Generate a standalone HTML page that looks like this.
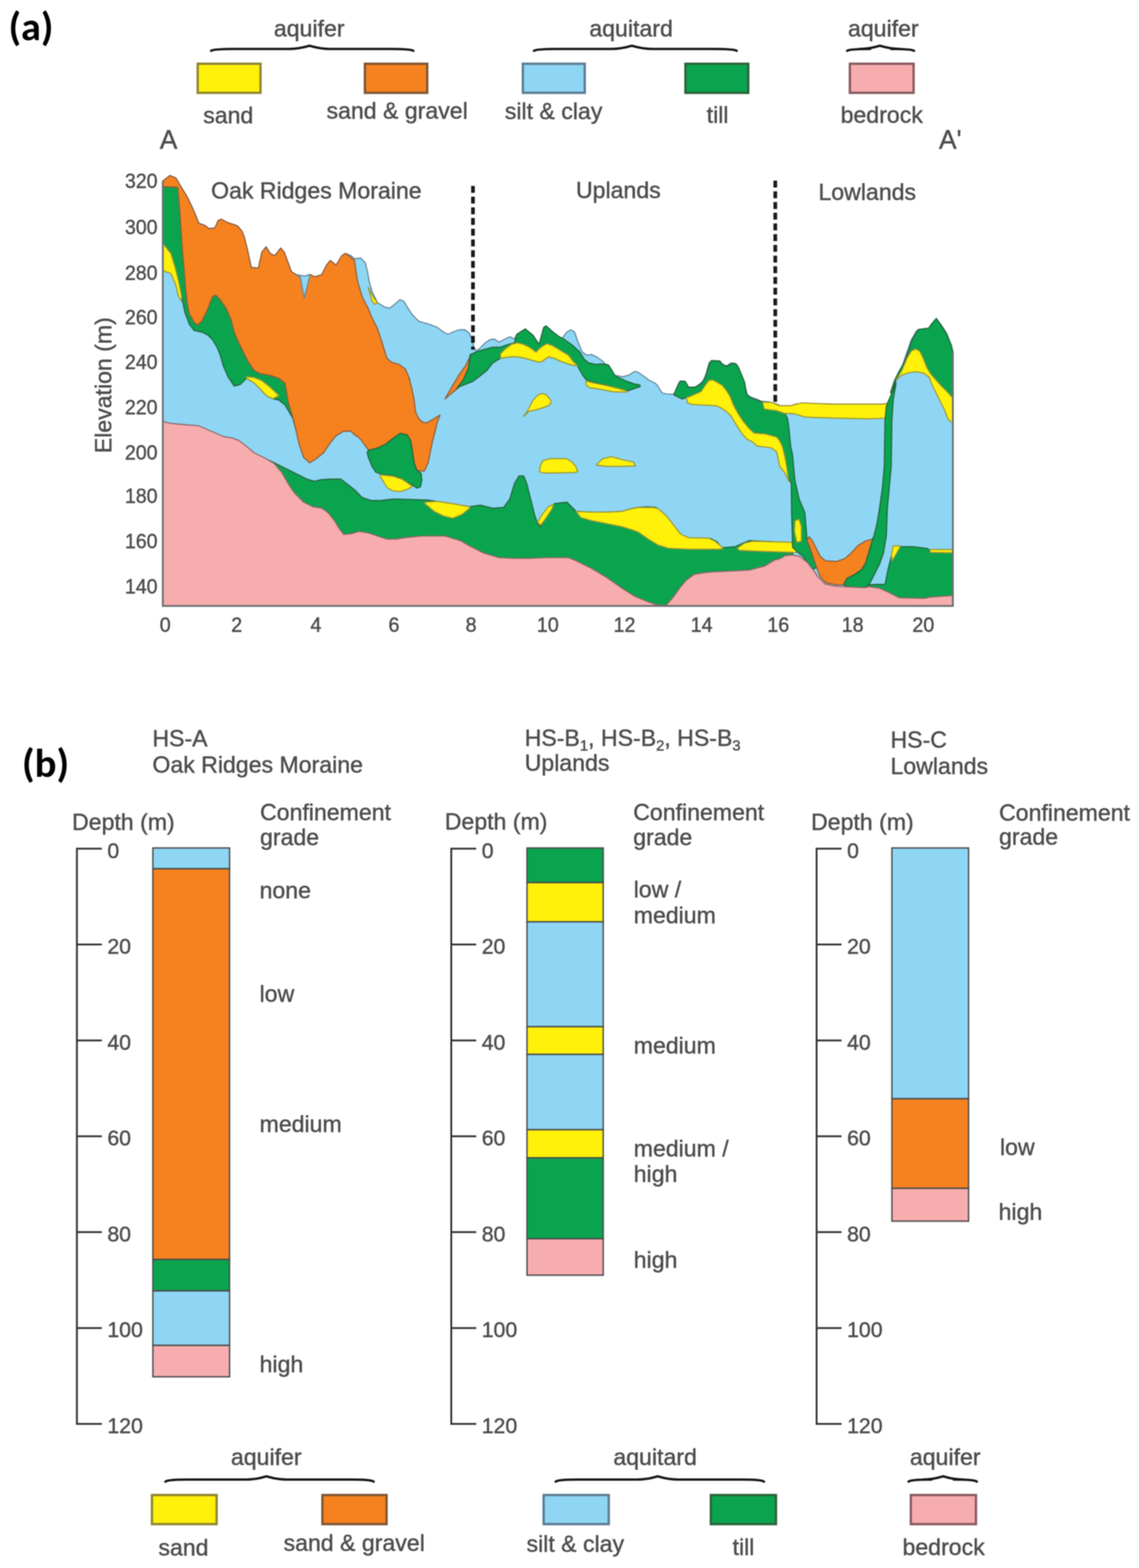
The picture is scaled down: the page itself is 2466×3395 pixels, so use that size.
<!DOCTYPE html><html><head><meta charset="utf-8"><title>Hydrostratigraphic cross-section</title><style>html,body{margin:0;padding:0;background:#fff;}svg{display:block;filter:blur(1px);}</style></head><body><svg width="2466" height="3395" viewBox="0 0 2466 3395" style="font-family:'Liberation Sans',Arial,sans-serif"><style>text{stroke:#505050;stroke-width:0.9px;}</style><rect width="2466" height="3395" fill="#fff"/><path d="M352.5,392.0 L368.0,380.0 L380.8,385.3 L391.0,403.0 L403.8,423.6 L414.0,444.0 L424.0,467.0 L430.5,483.5 L444.6,488.6 L452.0,495.0 L465.0,493.7 L472.6,477.0 L479.0,474.6 L493.0,482.0 L513.4,488.6 L523.6,500.0 L528.7,512.8 L536.4,543.4 L544.0,579.0 L559.3,580.4 L567.0,546.0 L576.0,534.5 L584.8,548.5 L595.0,553.6 L607.8,537.0 L615.4,546.0 L623.0,566.4 L630.7,588.0 L641.0,594.4 L650.0,600.0 L660.0,598.0 L671.5,594.4 L681.8,599.5 L697.0,594.4 L707.0,574.0 L715.0,564.0 L727.6,574.0 L740.0,553.6 L748.0,548.5 L760.0,553.6 L767.4,560.3 L780.8,558.7 L790.8,568.7 L795.8,588.7 L799.2,608.8 L805.8,632.1 L817.5,655.5 L834.2,665.5 L844.2,667.2 L854.3,658.9 L865.9,648.8 L874.3,652.2 L884.3,668.9 L893.4,682.2 L906.7,695.6 L930.1,702.3 L946.8,708.9 L960.1,719.0 L970.2,724.0 L980.2,719.0 L993.5,714.0 L1006.9,714.0 L1016.9,722.3 L1021.9,735.7 L1026.9,755.7 L1033.6,759.0 L1043.6,749.0 L1050.3,742.3 L1060.3,735.7 L1070.3,734.0 L1080.4,740.7 L1093.7,734.0 L1103.7,729.0 L1113.8,734.0 L1118.8,724.0 L1137.1,712.3 L1153.8,725.6 L1167.2,745.7 L1177.2,708.9 L1182.2,705.6 L1197.2,719.0 L1210.6,729.0 L1217.3,732.3 L1227.3,719.0 L1235.7,714.0 L1244.0,719.0 L1250.7,739.0 L1260.7,762.4 L1270.7,769.1 L1280.7,767.4 L1294.1,774.1 L1307.5,784.1 L1317.5,799.1 L1330.8,812.5 L1347.5,815.8 L1360.9,812.5 L1374.2,804.1 L1380.9,805.8 L1390.9,812.5 L1404.3,822.5 L1417.7,829.2 L1422.7,833.7 L1433.4,850.7 L1441.9,852.9 L1458.9,853.9 L1465.2,842.2 L1471.6,825.2 L1482.2,825.2 L1488.6,838.0 L1499.2,841.2 L1512.0,833.7 L1522.6,825.2 L1529.0,808.2 L1535.4,784.9 L1541.7,780.6 L1558.7,781.7 L1565.1,789.1 L1573.6,792.3 L1582.1,785.9 L1592.7,787.0 L1599.1,795.5 L1605.5,812.5 L1611.9,831.6 L1618.2,855.0 L1626.7,860.3 L1639.5,864.6 L1648.0,868.8 L1665.0,869.9 L1678.3,873.6 L1694.6,880.4 L1711.0,879.1 L1722.0,875.0 L1749.3,873.6 L1803.9,875.0 L1858.6,875.0 L1913.2,875.0 L1924.2,873.6 L1929.6,858.6 L1935.1,836.7 L1943.3,814.9 L1951.5,798.5 L1962.4,765.7 L1973.3,735.6 L1984.3,716.5 L1995.2,713.8 L2011.6,711.0 L2028.0,690.5 L2038.9,705.6 L2049.8,722.0 L2058.0,743.8 L2062.1,760.2 L2063.0,762.0 L2063.0,1312.0 L352.5,1312.0 Z" fill="#8ed6f4" stroke="#62849a" stroke-width="2.4" stroke-linejoin="round"/>
<path d="M352.5,405.0 L386.0,402.0 L420.0,460.0 L440.0,560.0 L470.0,640.0 L520.0,700.0 L560.0,760.0 L600.0,800.0 L625.0,830.0 L623.8,870.1 L633.9,903.5 L640.5,930.2 L634.0,906.0 L627.0,893.5 L617.0,876.8 L603.8,866.0 L590.4,863.4 L577.0,856.7 L563.7,842.5 L550.4,829.0 L533.7,819.0 L520.3,832.5 L507.0,835.8 L493.6,815.8 L483.6,792.4 L476.9,769.1 L470.2,752.4 L460.2,735.7 L450.2,725.6 L436.8,719.0 L420.1,715.6 L410.1,702.3 L400.1,675.6 L393.4,642.2 L386.7,608.8 L380.1,582.0 L370.0,548.7 L352.5,527.0 Z" fill="#0aa44e" stroke="#25633b" stroke-width="2.4" stroke-linejoin="round"/>
<path d="M352.5,527.0 L370.0,548.7 L380.1,582.0 L386.7,608.8 L393.4,642.2 L392.7,652.2 L386.7,642.2 L380.1,615.4 L370.0,592.1 L352.5,586.0 Z" fill="#fff10a" stroke="#9c9438" stroke-width="2.4" stroke-linejoin="round"/>
<path d="M533.7,815.8 L550.4,817.5 L567.0,824.2 L583.8,837.5 L597.0,849.9 L603.8,856.7 L590.4,863.4 L577.0,856.7 L563.7,842.5 L550.4,829.0 L533.7,819.0 Z" fill="#fff10a" stroke="#9c9438" stroke-width="2.4" stroke-linejoin="round"/>
<path d="M583.8,997.0 L593.8,1002.0 L617.2,1013.7 L643.9,1027.0 L663.9,1037.1 L680.6,1042.1 L694.0,1038.7 L717.3,1037.1 L737.4,1037.1 L750.7,1047.1 L767.4,1060.4 L784.1,1077.1 L804.2,1083.8 L824.2,1083.8 L850.9,1080.5 L881.4,1081.1 L927.0,1082.6 L1016.9,1097.2 L1040.3,1093.8 L1067.0,1100.5 L1090.4,1098.8 L1103.7,1080.5 L1113.8,1047.1 L1123.8,1030.4 L1133.8,1030.4 L1140.5,1047.1 L1147.2,1073.8 L1157.2,1113.9 L1163.9,1133.9 L1170.5,1140.6 L1180.6,1120.6 L1193.9,1097.2 L1200.6,1090.5 L1227.3,1087.2 L1234.0,1093.8 L1247.3,1107.2 L1280.7,1108.9 L1314.1,1108.9 L1347.5,1107.2 L1364.2,1102.2 L1380.9,1098.8 L1401.0,1097.2 L1421.0,1098.8 L1413.1,1097.7 L1428.5,1104.3 L1446.1,1124.2 L1463.8,1146.2 L1479.2,1163.8 L1501.2,1166.0 L1538.7,1166.0 L1551.9,1172.7 L1562.9,1185.9 L1591.6,1183.7 L1611.4,1174.9 L1622.5,1170.5 L1666.5,1172.7 L1710.6,1174.9 L1716.0,1180.0 L1716.0,1312.0 L560.0,1312.0 Z" fill="#0aa44e" stroke="#25633b" stroke-width="2.4" stroke-linejoin="round"/>
<path d="M352.5,392.0 L368.0,380.0 L380.8,385.3 L391.0,403.0 L403.8,423.6 L414.0,444.0 L424.0,467.0 L430.5,483.5 L444.6,488.6 L452.0,495.0 L465.0,493.7 L472.6,477.0 L479.0,474.6 L493.0,482.0 L513.4,488.6 L523.6,500.0 L528.7,512.8 L536.4,543.4 L544.0,579.0 L559.3,580.4 L567.0,546.0 L576.0,534.5 L584.8,548.5 L595.0,553.6 L607.8,537.0 L615.4,546.0 L623.0,566.4 L630.7,588.0 L641.0,594.4 L650.0,600.0 L660.0,598.0 L671.5,594.4 L681.8,599.5 L697.0,594.4 L707.0,574.0 L715.0,564.0 L727.6,574.0 L740.0,553.6 L748.0,548.5 L767.4,563.7 L774.1,608.8 L784.1,642.2 L797.5,668.9 L804.2,685.6 L817.5,712.3 L827.5,742.3 L837.6,775.7 L847.6,784.1 L864.3,789.1 L877.6,799.1 L887.7,822.5 L886.0,820.0 L892.1,842.8 L896.6,865.5 L899.6,891.3 L905.7,905.0 L914.8,914.1 L923.9,915.6 L934.6,909.6 L952.8,898.9 L946.7,914.1 L942.1,933.8 L936.1,956.6 L931.5,979.4 L927.0,1002.1 L920.9,1015.8 L917.9,1020.4 L902.7,1018.8 L896.6,1002.1 L892.1,971.8 L889.0,953.6 L881.4,941.4 L866.3,938.4 L851.1,949.0 L835.9,961.2 L820.7,968.8 L805.5,973.3 L797.9,974.8 L790.4,964.2 L782.8,953.6 L775.2,946.0 L767.6,941.4 L760.0,933.8 L744.1,933.5 L727.4,943.6 L714.0,960.3 L700.6,980.3 L683.9,993.7 L670.6,1002.0 L657.2,990.3 L647.2,960.3 L640.5,930.2 L633.9,903.5 L623.8,870.1 L617.2,830.0 L603.8,819.1 L583.8,812.5 L563.7,809.1 L550.4,802.5 L537.0,782.4 L527.0,762.4 L517.0,742.3 L507.0,719.0 L500.3,692.2 L490.3,668.9 L476.9,648.8 L466.9,638.8 L460.2,642.2 L453.5,658.9 L446.8,675.6 L436.8,695.6 L426.8,703.9 L420.1,697.3 L409.8,678.6 L405.2,655.5 L402.0,624.6 L399.0,586.0 L396.0,555.2 L392.8,508.9 L389.8,462.6 L385.0,405.5 L352.5,404.0 Z" fill="#f6821f" stroke="#8c5c3c" stroke-width="2.4" stroke-linejoin="round"/>
<path d="M797.9,974.8 L805.5,973.3 L820.7,968.8 L835.9,961.2 L851.1,949.0 L866.3,938.4 L881.4,941.4 L889.0,953.6 L892.1,971.8 L896.6,1002.1 L902.7,1018.8 L911.8,1024.9 L913.3,1040.1 L910.3,1053.8 L902.7,1056.8 L893.6,1050.7 L881.4,1044.7 L866.3,1035.5 L851.1,1029.5 L828.3,1028.0 L813.1,1021.9 L805.5,1009.7 L797.9,991.5 L794.9,979.4 Z" fill="#0aa44e" stroke="#25633b" stroke-width="2.4" stroke-linejoin="round"/>
<path d="M823.8,1028.0 L851.1,1031.0 L869.3,1037.1 L881.4,1044.7 L892.1,1052.2 L892.1,1053.8 L881.4,1059.8 L866.3,1064.4 L851.1,1062.9 L838.9,1056.8 L831.3,1044.7 L823.8,1032.5 Z" fill="#fff10a" stroke="#9c9438" stroke-width="2.4" stroke-linejoin="round"/>
<path d="M641.0,594.4 L650.0,600.0 L658.8,645.4 L671.5,594.4 L660.0,598.0 Z" fill="#8ed6f4" stroke="#62849a" stroke-width="2.4" stroke-linejoin="round"/>
<path d="M797.5,622.1 L807.5,642.2 L817.5,655.5 L810.8,658.9 L804.2,648.8 Z" fill="#fff10a" stroke="#9c9438" stroke-width="2.4" stroke-linejoin="round"/>
<path d="M963.3,863.8 L978.9,836.6 L993.4,812.3 L1008.0,791.9 L1016.8,773.4 L1018.5,767.0 L1019.0,774.4 L1015.0,797.7 L1004.0,822.0 L990.0,841.5 L970.0,858.0 Z" fill="#f6821f" stroke="#8c5c3c" stroke-width="2.4" stroke-linejoin="round"/>
<path d="M1017.7,768.6 L1030.4,761.8 L1046.9,757.0 L1067.0,751.7 L1067.0,751.7 L1083.7,751.7 L1100.4,745.7 L1113.8,742.3 L1118.8,724.0 L1137.1,712.3 L1153.8,725.6 L1167.2,745.7 L1177.2,708.9 L1182.2,705.6 L1197.2,719.0 L1210.6,729.0 L1210.6,729.0 L1222.0,735.0 L1240.0,748.0 L1255.0,762.0 L1265.0,778.0 L1275.0,786.0 L1290.0,789.0 L1305.0,788.0 L1317.0,790.0 L1325.0,802.0 L1332.0,814.0 L1345.0,820.0 L1358.0,826.0 L1372.0,831.0 L1386.0,834.0 L1385.7,837.0 L1371.0,842.0 L1356.6,847.0 L1342.0,842.0 L1312.9,834.0 L1283.7,828.0 L1269.0,822.0 L1262.0,813.0 L1255.0,801.0 L1250.7,792.4 L1250.7,792.4 L1234.0,789.1 L1213.9,782.4 L1200.6,775.7 L1187.2,772.4 L1173.9,782.4 L1167.2,784.1 L1153.8,780.7 L1137.1,775.7 L1120.4,772.4 L1107.1,772.4 L1093.7,774.1 L1083.7,775.7 L1067.0,785.8 L1053.7,802.5 L1037.0,815.8 L1023.6,825.8 L1006.9,832.5 L996.4,836.6 L988.6,841.5 L1003.2,822.0 L1013.9,797.7 L1017.7,772.0 Z" fill="#0aa44e" stroke="#25633b" stroke-width="2.4" stroke-linejoin="round"/>
<path d="M1083.7,765.7 L1093.7,755.7 L1107.1,745.7 L1120.4,742.3 L1133.8,745.7 L1147.2,752.4 L1160.5,762.4 L1170.5,752.4 L1183.9,744.0 L1197.2,749.0 L1213.9,759.0 L1230.6,769.1 L1240.7,782.4 L1250.7,792.4 L1234.0,789.1 L1213.9,782.4 L1200.6,775.7 L1187.2,772.4 L1173.9,782.4 L1167.2,784.1 L1153.8,780.7 L1137.1,775.7 L1120.4,772.4 L1107.1,772.4 L1093.7,774.1 L1083.7,775.7 Z" fill="#fff10a" stroke="#9c9438" stroke-width="2.4" stroke-linejoin="round"/>
<path d="M1269.0,824.5 L1283.7,828.9 L1312.9,834.7 L1342.0,842.0 L1356.6,846.4 L1356.6,849.0 L1327.4,848.3 L1298.3,842.5 L1276.4,839.5 L1269.0,833.3 Z" fill="#fff10a" stroke="#9c9438" stroke-width="2.4" stroke-linejoin="round"/>
<path d="M1133.0,902.0 L1140.0,893.0 L1146.0,882.0 L1153.0,868.0 L1163.0,857.0 L1172.0,852.0 L1182.0,854.0 L1192.0,866.0 L1193.0,873.0 L1186.0,879.0 L1172.0,884.0 L1158.0,888.0 L1146.0,890.0 Z" fill="#fff10a" stroke="#9c9438" stroke-width="2.4" stroke-linejoin="round"/>
<path d="M1168.0,1021.0 L1170.0,1008.0 L1176.0,997.0 L1191.0,993.0 L1227.0,993.0 L1238.0,1000.0 L1246.0,1009.0 L1251.0,1021.0 L1245.0,1023.0 L1209.0,1024.0 L1176.0,1024.0 Z" fill="#fff10a" stroke="#9c9438" stroke-width="2.4" stroke-linejoin="round"/>
<path d="M1290.8,1007.0 L1304.1,993.7 L1324.1,988.6 L1347.5,995.3 L1370.9,1000.3 L1375.9,1008.7 L1347.5,1009.7 L1314.1,1009.7 Z" fill="#fff10a" stroke="#9c9438" stroke-width="2.4" stroke-linejoin="round"/>
<path d="M920.1,1087.2 L946.8,1085.5 L980.2,1090.5 L1016.9,1097.2 L1016.9,1100.5 L1000.2,1113.9 L980.2,1122.2 L960.1,1117.2 L940.1,1107.2 L920.1,1090.5 Z" fill="#fff10a" stroke="#9c9438" stroke-width="2.4" stroke-linejoin="round"/>
<path d="M1163.9,1130.6 L1173.9,1113.9 L1187.2,1097.2 L1198.9,1092.2 L1193.9,1103.9 L1180.6,1123.9 L1170.5,1137.2 Z" fill="#fff10a" stroke="#9c9438" stroke-width="2.4" stroke-linejoin="round"/>
<path d="M1247.3,1107.2 L1280.7,1108.9 L1314.1,1108.9 L1347.5,1107.2 L1364.2,1102.2 L1380.9,1098.8 L1414.6,1098.6 L1425.6,1101.9 L1443.0,1117.2 L1458.4,1136.8 L1473.7,1156.5 L1491.1,1164.2 L1534.9,1165.2 L1548.0,1171.8 L1561.1,1182.7 L1565.5,1188.2 L1556.7,1189.3 L1491.1,1189.3 L1447.4,1187.1 L1425.6,1180.5 L1403.7,1167.4 L1381.9,1152.1 L1367.6,1147.0 L1347.5,1140.6 L1314.1,1133.9 L1280.7,1127.2 L1257.4,1120.6 Z" fill="#fff10a" stroke="#9c9438" stroke-width="2.4" stroke-linejoin="round"/>
<path d="M1596.0,1187.1 L1611.4,1176.2 L1628.8,1171.8 L1709.7,1174.0 L1740.0,1178.0 L1740.0,1196.0 L1709.7,1195.8 L1644.2,1193.7 L1600.4,1191.5 Z" fill="#fff10a" stroke="#9c9438" stroke-width="2.4" stroke-linejoin="round"/>
<path d="M1459.4,852.9 L1469.0,831.0 L1474.0,825.0 L1483.7,826.0 L1491.0,838.3 L1505.6,838.3 L1517.7,831.0 L1527.4,816.4 L1534.7,792.0 L1539.6,781.2 L1541.7,780.6 L1558.7,781.7 L1561.4,787.3 L1573.6,793.4 L1585.7,786.0 L1595.4,789.7 L1601.5,801.9 L1607.6,816.4 L1612.4,828.6 L1616.0,852.9 L1622.1,859.0 L1635.3,865.0 L1651.0,871.0 L1654.7,885.6 L1681.4,889.2 L1699.6,895.3 L1704.5,905.0 L1707.0,917.0 L1709.4,941.4 L1711.8,965.7 L1716.0,985.0 L1720.7,1038.0 L1730.0,1080.0 L1737.0,1097.0 L1742.6,1110.0 L1747.4,1170.0 L1752.0,1181.0 L1760.0,1204.7 L1767.9,1228.4 L1760.0,1233.0 L1747.4,1217.3 L1738.0,1204.0 L1730.0,1198.0 L1716.0,1185.0 L1714.0,1110.0 L1713.0,1045.0 L1708.0,1040.0 L1706.0,1030.0 L1703.0,1009.0 L1699.6,990.0 L1693.6,965.7 L1687.5,953.6 L1681.4,946.3 L1657.1,939.6 L1632.9,937.8 L1622.1,928.1 L1610.0,913.6 L1597.9,895.4 L1588.1,877.1 L1580.9,858.9 L1573.6,846.8 L1563.9,834.6 L1554.1,828.6 L1543.2,822.5 L1534.7,823.7 L1527.4,833.4 L1517.7,848.0 L1500.7,855.3 L1486.0,861.4 L1476.4,863.8 L1459.4,855.3 Z" fill="#0aa44e" stroke="#25633b" stroke-width="2.4" stroke-linejoin="round"/>
<path d="M1486.0,861.4 L1500.7,855.3 L1517.7,848.0 L1527.4,833.4 L1534.7,823.7 L1543.2,822.5 L1554.1,828.6 L1563.9,834.6 L1573.6,846.8 L1580.9,858.9 L1588.1,877.1 L1597.9,895.4 L1610.0,913.6 L1622.1,928.1 L1632.9,937.8 L1657.1,939.6 L1681.4,946.3 L1687.5,953.6 L1693.6,965.7 L1699.6,990.0 L1703.0,1009.0 L1706.0,1030.0 L1708.0,1042.0 L1700.0,1025.0 L1688.0,1009.0 L1684.0,990.0 L1681.4,977.9 L1669.3,969.4 L1639.0,965.7 L1628.2,956.1 L1616.0,950.0 L1604.0,935.4 L1591.8,916.0 L1583.3,901.4 L1573.6,891.7 L1561.4,883.2 L1549.3,878.4 L1500.7,876.0 L1488.6,872.3 Z" fill="#fff10a" stroke="#9c9438" stroke-width="2.4" stroke-linejoin="round"/>
<path d="M1721.0,1128.0 L1730.0,1124.0 L1735.0,1140.0 L1735.0,1172.0 L1725.0,1174.0 L1720.0,1150.0 Z" fill="#fff10a" stroke="#9c9438" stroke-width="2.4" stroke-linejoin="round"/>
<path d="M1651.0,871.0 L1669.3,871.0 L1687.5,878.3 L1711.8,878.3 L1736.0,872.2 L1760.0,873.4 L1804.0,875.0 L1858.6,875.0 L1913.0,875.0 L1922.0,872.4 L1924.0,890.0 L1917.5,905.4 L1880.0,907.0 L1800.0,905.0 L1760.0,903.8 L1742.0,902.6 L1717.9,895.3 L1699.6,895.3 L1681.4,889.2 L1654.7,885.6 Z" fill="#fff10a" stroke="#9c9438" stroke-width="2.4" stroke-linejoin="round"/>
<path d="M1747.4,1170.0 L1752.0,1181.0 L1760.0,1204.7 L1767.9,1228.4 L1775.8,1249.0 L1788.4,1261.5 L1810.5,1266.3 L1826.3,1266.3 L1834.0,1252.0 L1850.0,1244.2 L1865.7,1233.0 L1873.6,1220.5 L1878.4,1204.7 L1883.0,1189.0 L1887.8,1173.0 L1889.4,1166.8 L1873.6,1171.6 L1857.9,1181.0 L1842.0,1198.4 L1829.4,1209.4 L1810.5,1215.8 L1786.8,1214.2 L1775.8,1204.7 L1767.9,1189.0 L1760.0,1173.0 L1752.0,1162.0 Z" fill="#f6821f" stroke="#8c5c3c" stroke-width="2.4" stroke-linejoin="round"/>
<path d="M1923.5,868.0 L1919.0,880.0 L1916.0,910.0 L1914.5,1010.0 L1910.0,1060.0 L1904.3,1100.0 L1898.2,1136.4 L1892.0,1160.7 L1889.4,1166.8 L1887.8,1173.0 L1883.0,1189.0 L1878.4,1204.7 L1873.6,1220.5 L1865.7,1233.0 L1850.0,1244.2 L1834.0,1252.0 L1826.3,1266.3 L1842.0,1272.0 L1873.6,1273.0 L1883.6,1262.0 L1892.0,1245.7 L1904.3,1221.4 L1912.8,1197.0 L1918.9,1160.7 L1921.3,1100.0 L1925.0,1060.0 L1929.5,1010.0 L1931.0,910.0 L1934.0,865.0 L1940.0,830.0 Z" fill="#0aa44e" stroke="#25633b" stroke-width="2.4" stroke-linejoin="round"/>
<path d="M1928.0,850.0 L1937.0,823.0 L1947.5,802.0 L1958.0,784.0 L1967.0,760.0 L1973.0,739.0 L1982.0,722.5 L1988.0,713.5 L2010.4,710.5 L2018.0,700.0 L2027.0,689.5 L2036.0,701.5 L2045.0,715.0 L2052.4,730.0 L2060.0,748.0 L2063.0,762.0 L2063.0,862.0 L2060.0,862.0 L2049.4,847.0 L2037.4,835.0 L2024.0,820.0 L2015.0,809.4 L2007.4,797.4 L1998.4,775.0 L1991.0,760.0 L1982.0,755.5 L1973.0,760.0 L1964.0,775.0 L1953.5,800.4 L1945.0,815.0 L1937.0,830.0 L1932.0,850.0 Z" fill="#0aa44e" stroke="#25633b" stroke-width="2.4" stroke-linejoin="round"/>
<path d="M1945.0,815.0 L1953.5,800.4 L1964.0,775.0 L1973.0,760.0 L1982.0,755.5 L1991.0,760.0 L1998.4,775.0 L2007.4,797.4 L2015.0,809.4 L2024.0,820.0 L2037.4,835.0 L2049.4,847.0 L2063.0,862.0 L2063.0,917.0 L2052.4,907.0 L2045.0,887.4 L2037.4,872.4 L2030.0,857.4 L2022.4,842.4 L2015.0,826.0 L2012.0,817.0 L2000.0,808.0 L1985.0,805.0 L1970.0,806.4 L1952.0,812.4 L1940.0,823.0 Z" fill="#fff10a" stroke="#9c9438" stroke-width="2.4" stroke-linejoin="round"/>
<path d="M1934.6,1182.6 L1952.9,1183.8 L1977.0,1183.8 L2007.5,1187.4 L2013.6,1192.3 L2063.0,1192.3 L2063.0,1300.0 L1880.0,1300.0 L1880.0,1266.0 L1916.4,1265.0 L1917.6,1257.9 L1922.5,1233.6 L1928.6,1209.3 Z" fill="#0aa44e" stroke="#25633b" stroke-width="2.4" stroke-linejoin="round"/>
<path d="M2013.6,1190.0 L2063.0,1190.0 L2063.0,1197.0 L2013.6,1196.0 Z" fill="#fff10a" stroke="#9c9438" stroke-width="2.4" stroke-linejoin="round"/>
<path d="M1934.0,1182.0 L1950.0,1182.0 L1940.0,1200.0 L1931.0,1215.0 L1930.0,1200.0 Z" fill="#fff10a" stroke="#9c9438" stroke-width="2.4" stroke-linejoin="round"/>
<path d="M352.5,913.0 L370.0,916.8 L400.1,919.5 L430.1,921.9 L456.9,933.5 L483.6,945.2 L503.6,948.6 L517.0,953.6 L530.3,963.6 L550.4,980.3 L577.1,993.7 L593.8,1003.7 L610.5,1023.7 L623.8,1047.1 L637.2,1067.1 L657.2,1087.2 L677.3,1097.2 L697.3,1100.5 L710.7,1110.5 L724.0,1127.2 L734.0,1143.9 L744.1,1157.3 L760.8,1155.6 L777.5,1150.6 L797.5,1153.9 L817.5,1160.6 L837.6,1167.3 L857.6,1167.3 L877.6,1164.0 L913.4,1160.6 L963.5,1160.6 L996.9,1170.6 L1020.3,1184.0 L1047.0,1197.4 L1080.4,1207.4 L1113.8,1209.0 L1147.2,1209.0 L1180.6,1207.4 L1230.6,1207.4 L1247.3,1214.1 L1280.7,1230.8 L1314.1,1250.8 L1347.5,1274.2 L1374.2,1290.9 L1397.6,1300.9 L1420.0,1309.0 L1441.7,1311.0 L1457.1,1293.9 L1472.6,1271.8 L1485.8,1256.4 L1503.4,1243.2 L1534.3,1238.8 L1578.4,1236.6 L1622.5,1234.4 L1655.5,1225.6 L1677.6,1212.3 L1688.0,1210.0 L1700.0,1203.0 L1715.8,1201.6 L1731.6,1204.7 L1747.4,1217.3 L1760.0,1233.0 L1771.0,1249.0 L1786.8,1264.7 L1810.5,1269.4 L1842.0,1271.0 L1873.6,1272.6 L1880.0,1270.0 L1904.3,1273.6 L1922.5,1282.0 L1946.8,1294.3 L2001.4,1295.5 L2013.6,1293.0 L2063.0,1289.4 L2063.0,1312.0 L352.5,1312.0 Z" fill="#f7adae" stroke="#8e6569" stroke-width="2.4" stroke-linejoin="round"/>
<text x="18.5" y="87" font-size="87" font-weight="bold" textLength="97.2" lengthAdjust="spacingAndGlyphs" fill="#000" style="stroke:none;font-family:Carlito,'Liberation Sans',sans-serif">(a)</text>
<text x="47.5" y="1681.5" font-size="88" font-weight="bold" textLength="102.1" lengthAdjust="spacingAndGlyphs" fill="#000" style="stroke:none;font-family:Carlito,'Liberation Sans',sans-serif">(b)</text>
<text x="593" y="79" font-size="50" text-anchor="start" fill="#4d4d4d" >aquifer</text>
<text x="1276" y="79" font-size="50" text-anchor="start" fill="#4d4d4d" >aquitard</text>
<text x="1836" y="79" font-size="50" text-anchor="start" fill="#4d4d4d" >aquifer</text>
<text x="440" y="267" font-size="50" text-anchor="start" fill="#4d4d4d" >sand</text>
<text x="707" y="257" font-size="50" text-anchor="start" fill="#4d4d4d" >sand &amp; gravel</text>
<text x="1093" y="258" font-size="50" text-anchor="start" fill="#4d4d4d" >silt &amp; clay</text>
<text x="1530" y="266" font-size="50" text-anchor="start" fill="#4d4d4d" >till</text>
<text x="1820" y="266" font-size="50" text-anchor="start" fill="#4d4d4d" >bedrock</text>
<path d="M457,110 C461,107 477,106 507,106 L625,106 C650,106 662,101 670,99 C678,101 690,106 715,106 L845,106 C875,106 891,107 895,110" fill="none" stroke="#151515" stroke-width="5" stroke-linecap="round" stroke-linejoin="round"/>
<path d="M1156,110 C1160,107 1176,106 1206,106 L1323,106 C1348,106 1360,101 1368,99 C1376,101 1388,106 1413,106 L1545,106 C1575,106 1591,107 1595,110" fill="none" stroke="#151515" stroke-width="5" stroke-linecap="round" stroke-linejoin="round"/>
<path d="M1834,110 C1838,107 1854,106 1884,106 L1860,106 C1885,106 1897,101 1905,99 C1913,101 1925,106 1950,106 L1929,106 C1959,106 1975,107 1979,110" fill="none" stroke="#151515" stroke-width="5" stroke-linecap="round" stroke-linejoin="round"/>
<rect x="428" y="138" width="136" height="63" fill="#fff10a" stroke="#8c8432" stroke-width="5"/>
<rect x="790" y="138" width="135" height="63" fill="#f6821f" stroke="#7d5535" stroke-width="5"/>
<rect x="1132" y="138" width="134" height="63" fill="#8ed6f4" stroke="#5b7a90" stroke-width="5"/>
<rect x="1484" y="138" width="136" height="63" fill="#0aa44e" stroke="#2b6238" stroke-width="5"/>
<rect x="1840" y="138" width="138" height="63" fill="#f7adae" stroke="#86595d" stroke-width="5"/>
<text x="500" y="3172" font-size="50" text-anchor="start" fill="#4d4d4d" >aquifer</text>
<text x="1328" y="3172" font-size="50" text-anchor="start" fill="#4d4d4d" >aquitard</text>
<text x="1970" y="3172" font-size="50" text-anchor="start" fill="#4d4d4d" >aquifer</text>
<text x="343" y="3368" font-size="50" text-anchor="start" fill="#4d4d4d" >sand</text>
<text x="614" y="3358" font-size="50" text-anchor="start" fill="#4d4d4d" >sand &amp; gravel</text>
<text x="1140" y="3360" font-size="50" text-anchor="start" fill="#4d4d4d" >silt &amp; clay</text>
<text x="1586" y="3367" font-size="50" text-anchor="start" fill="#4d4d4d" >till</text>
<text x="1954" y="3367" font-size="50" text-anchor="start" fill="#4d4d4d" >bedrock</text>
<path d="M358,3208 C362,3204.5 378,3203.5 408,3203.5 L532,3203.5 C557,3203.5 569,3198.5 577,3196.5 C585,3198.5 597,3203.5 622,3203.5 L759,3203.5 C789,3203.5 805,3204.5 809,3208" fill="none" stroke="#151515" stroke-width="5" stroke-linecap="round" stroke-linejoin="round"/>
<path d="M1203,3208 C1207,3204.5 1223,3203.5 1253,3203.5 L1379,3203.5 C1404,3203.5 1416,3198.5 1424,3196.5 C1432,3198.5 1444,3203.5 1469,3203.5 L1604,3203.5 C1634,3203.5 1650,3204.5 1654,3208" fill="none" stroke="#151515" stroke-width="5" stroke-linecap="round" stroke-linejoin="round"/>
<path d="M1967,3208 C1971,3204.5 1987,3203.5 2017,3203.5 L1997,3203.5 C2022,3203.5 2034,3198.5 2042,3196.5 C2050,3198.5 2062,3203.5 2087,3203.5 L2065,3203.5 C2095,3203.5 2111,3204.5 2115,3208" fill="none" stroke="#151515" stroke-width="5" stroke-linecap="round" stroke-linejoin="round"/>
<rect x="329" y="3237" width="140" height="63" fill="#fff10a" stroke="#8c8432" stroke-width="5"/>
<rect x="698" y="3237" width="139" height="63" fill="#f6821f" stroke="#7d5535" stroke-width="5"/>
<rect x="1177" y="3237" width="141" height="63" fill="#8ed6f4" stroke="#5b7a90" stroke-width="5"/>
<rect x="1539" y="3237" width="141" height="63" fill="#0aa44e" stroke="#2b6238" stroke-width="5"/>
<rect x="1972" y="3237" width="141" height="63" fill="#f7adae" stroke="#86595d" stroke-width="5"/>
<text x="346" y="321.5" font-size="57" text-anchor="start" fill="#4d4d4d" >A</text>
<text x="2033" y="322" font-size="57" text-anchor="start" fill="#4d4d4d" >A'</text>
<text x="457" y="430" font-size="50" text-anchor="start" fill="#4d4d4d" >Oak Ridges Moraine</text>
<text x="1247" y="429" font-size="50" text-anchor="start" fill="#4d4d4d" >Uplands</text>
<text x="1772" y="433" font-size="50" text-anchor="start" fill="#4d4d4d" >Lowlands</text>
<line x1="1024" y1="402.5" x2="1024" y2="757" stroke="#1a1a1a" stroke-width="8" stroke-dasharray="15 8.2"/>
<line x1="1678.5" y1="391" x2="1678.5" y2="872" stroke="#1a1a1a" stroke-width="8" stroke-dasharray="15 8.2"/>
<text x="341" y="407" font-size="45" text-anchor="end" fill="#4d4d4d" textLength="70.6" lengthAdjust="spacingAndGlyphs">320</text>
<text x="341" y="507" font-size="45" text-anchor="end" fill="#4d4d4d" textLength="70.6" lengthAdjust="spacingAndGlyphs">300</text>
<text x="341" y="606" font-size="45" text-anchor="end" fill="#4d4d4d" textLength="70.6" lengthAdjust="spacingAndGlyphs">280</text>
<text x="341" y="702" font-size="45" text-anchor="end" fill="#4d4d4d" textLength="70.6" lengthAdjust="spacingAndGlyphs">260</text>
<text x="341" y="798.6" font-size="45" text-anchor="end" fill="#4d4d4d" textLength="70.6" lengthAdjust="spacingAndGlyphs">240</text>
<text x="341" y="896.5" font-size="45" text-anchor="end" fill="#4d4d4d" textLength="70.6" lengthAdjust="spacingAndGlyphs">220</text>
<text x="341" y="995" font-size="45" text-anchor="end" fill="#4d4d4d" textLength="70.6" lengthAdjust="spacingAndGlyphs">200</text>
<text x="341" y="1089" font-size="45" text-anchor="end" fill="#4d4d4d" textLength="70.6" lengthAdjust="spacingAndGlyphs">180</text>
<text x="341" y="1187" font-size="45" text-anchor="end" fill="#4d4d4d" textLength="70.6" lengthAdjust="spacingAndGlyphs">160</text>
<text x="341" y="1285" font-size="45" text-anchor="end" fill="#4d4d4d" textLength="70.6" lengthAdjust="spacingAndGlyphs">140</text>
<text x="357.6" y="1368" font-size="45" text-anchor="middle" fill="#4d4d4d" textLength="23.8" lengthAdjust="spacingAndGlyphs">0</text>
<text x="512.5" y="1368" font-size="45" text-anchor="middle" fill="#4d4d4d" textLength="23.8" lengthAdjust="spacingAndGlyphs">2</text>
<text x="684" y="1368" font-size="45" text-anchor="middle" fill="#4d4d4d" textLength="23.8" lengthAdjust="spacingAndGlyphs">4</text>
<text x="853" y="1368" font-size="45" text-anchor="middle" fill="#4d4d4d" textLength="23.8" lengthAdjust="spacingAndGlyphs">6</text>
<text x="1020" y="1368" font-size="45" text-anchor="middle" fill="#4d4d4d" textLength="23.8" lengthAdjust="spacingAndGlyphs">8</text>
<text x="1186" y="1368" font-size="45" text-anchor="middle" fill="#4d4d4d" textLength="47.5" lengthAdjust="spacingAndGlyphs">10</text>
<text x="1352" y="1368" font-size="45" text-anchor="middle" fill="#4d4d4d" textLength="47.5" lengthAdjust="spacingAndGlyphs">12</text>
<text x="1519" y="1368" font-size="45" text-anchor="middle" fill="#4d4d4d" textLength="47.5" lengthAdjust="spacingAndGlyphs">14</text>
<text x="1685" y="1368" font-size="45" text-anchor="middle" fill="#4d4d4d" textLength="47.5" lengthAdjust="spacingAndGlyphs">16</text>
<text x="1846" y="1368" font-size="45" text-anchor="middle" fill="#4d4d4d" textLength="47.5" lengthAdjust="spacingAndGlyphs">18</text>
<text x="1999" y="1368" font-size="45" text-anchor="middle" fill="#4d4d4d" textLength="47.5" lengthAdjust="spacingAndGlyphs">20</text>
<text x="0" y="0" font-size="50" fill="#4d4d4d" text-anchor="middle" transform="translate(241,834) rotate(-90)">Elevation (m)</text>
<path d="M352.5,392 L352.5,1312 L2063,1312 L2063,762" fill="none" stroke="#6d6f73" stroke-width="4"/>
<path d="M220.5,1837.5 L166.5,1837.5 L166.5,3083 L220.5,3083" fill="none" stroke="#333" stroke-width="4"/>
<line x1="166.5" y1="2045.0833333333333" x2="220.5" y2="2045.0833333333333" stroke="#333" stroke-width="4"/>
<line x1="166.5" y1="2252.6666666666665" x2="220.5" y2="2252.6666666666665" stroke="#333" stroke-width="4"/>
<line x1="166.5" y1="2460.25" x2="220.5" y2="2460.25" stroke="#333" stroke-width="4"/>
<line x1="166.5" y1="2667.8333333333335" x2="220.5" y2="2667.8333333333335" stroke="#333" stroke-width="4"/>
<line x1="166.5" y1="2875.416666666667" x2="220.5" y2="2875.416666666667" stroke="#333" stroke-width="4"/>
<text x="232.5" y="1857.5" font-size="46" text-anchor="start" fill="#4d4d4d" >0</text>
<text x="232.5" y="2065.083333333333" font-size="46" text-anchor="start" fill="#4d4d4d" >20</text>
<text x="232.5" y="2272.6666666666665" font-size="46" text-anchor="start" fill="#4d4d4d" >40</text>
<text x="232.5" y="2480.25" font-size="46" text-anchor="start" fill="#4d4d4d" >60</text>
<text x="232.5" y="2687.8333333333335" font-size="46" text-anchor="start" fill="#4d4d4d" >80</text>
<text x="232.5" y="2895.416666666667" font-size="46" text-anchor="start" fill="#4d4d4d" >100</text>
<text x="232.5" y="3103.0" font-size="46" text-anchor="start" fill="#4d4d4d" >120</text>
<rect x="331" y="1836" width="166" height="45" fill="#8ed6f4" stroke="#4a4a4a" stroke-width="3"/>
<rect x="331" y="1881" width="166" height="846" fill="#f6821f" stroke="#4a4a4a" stroke-width="3"/>
<rect x="331" y="2727" width="166" height="68" fill="#0aa44e" stroke="#4a4a4a" stroke-width="3"/>
<rect x="331" y="2795" width="166" height="118" fill="#8ed6f4" stroke="#4a4a4a" stroke-width="3"/>
<rect x="331" y="2913" width="166" height="68" fill="#f7adae" stroke="#4a4a4a" stroke-width="3"/>
<text x="330" y="1616" font-size="50" text-anchor="start" fill="#4d4d4d" >HS-A</text>
<text x="330" y="1673" font-size="50" text-anchor="start" fill="#4d4d4d" >Oak Ridges Moraine</text>
<text x="156" y="1797" font-size="50" text-anchor="start" fill="#4d4d4d" >Depth (m)</text>
<text x="563" y="1776" font-size="50" text-anchor="start" fill="#4d4d4d" >Confinement</text>
<text x="563" y="1830" font-size="50" text-anchor="start" fill="#4d4d4d" >grade</text>
<text x="562" y="1945" font-size="50" text-anchor="start" fill="#4d4d4d" >none</text>
<text x="562" y="2169" font-size="50" text-anchor="start" fill="#4d4d4d" >low</text>
<text x="562" y="2451" font-size="50" text-anchor="start" fill="#4d4d4d" >medium</text>
<text x="562" y="2971" font-size="50" text-anchor="start" fill="#4d4d4d" >high</text>
<path d="M1031,1837.5 L977,1837.5 L977,3083 L1031,3083" fill="none" stroke="#333" stroke-width="4"/>
<line x1="977" y1="2045.0833333333333" x2="1031" y2="2045.0833333333333" stroke="#333" stroke-width="4"/>
<line x1="977" y1="2252.6666666666665" x2="1031" y2="2252.6666666666665" stroke="#333" stroke-width="4"/>
<line x1="977" y1="2460.25" x2="1031" y2="2460.25" stroke="#333" stroke-width="4"/>
<line x1="977" y1="2667.8333333333335" x2="1031" y2="2667.8333333333335" stroke="#333" stroke-width="4"/>
<line x1="977" y1="2875.416666666667" x2="1031" y2="2875.416666666667" stroke="#333" stroke-width="4"/>
<text x="1043" y="1857.5" font-size="46" text-anchor="start" fill="#4d4d4d" >0</text>
<text x="1043" y="2065.083333333333" font-size="46" text-anchor="start" fill="#4d4d4d" >20</text>
<text x="1043" y="2272.6666666666665" font-size="46" text-anchor="start" fill="#4d4d4d" >40</text>
<text x="1043" y="2480.25" font-size="46" text-anchor="start" fill="#4d4d4d" >60</text>
<text x="1043" y="2687.8333333333335" font-size="46" text-anchor="start" fill="#4d4d4d" >80</text>
<text x="1043" y="2895.416666666667" font-size="46" text-anchor="start" fill="#4d4d4d" >100</text>
<text x="1043" y="3103.0" font-size="46" text-anchor="start" fill="#4d4d4d" >120</text>
<rect x="1141" y="1836" width="165" height="75" fill="#0aa44e" stroke="#4a4a4a" stroke-width="3"/>
<rect x="1141" y="1911" width="165" height="85" fill="#fff10a" stroke="#4a4a4a" stroke-width="3"/>
<rect x="1141" y="1996" width="165" height="227" fill="#8ed6f4" stroke="#4a4a4a" stroke-width="3"/>
<rect x="1141" y="2223" width="165" height="60" fill="#fff10a" stroke="#4a4a4a" stroke-width="3"/>
<rect x="1141" y="2283" width="165" height="163" fill="#8ed6f4" stroke="#4a4a4a" stroke-width="3"/>
<rect x="1141" y="2446" width="165" height="61" fill="#fff10a" stroke="#4a4a4a" stroke-width="3"/>
<rect x="1141" y="2507" width="165" height="175" fill="#0aa44e" stroke="#4a4a4a" stroke-width="3"/>
<rect x="1141" y="2682" width="165" height="79" fill="#f7adae" stroke="#4a4a4a" stroke-width="3"/>
<text x="1136" y="1669" font-size="50" text-anchor="start" fill="#4d4d4d" >Uplands</text>
<text x="963" y="1796" font-size="50" text-anchor="start" fill="#4d4d4d" >Depth (m)</text>
<text x="1371" y="1776" font-size="50" text-anchor="start" fill="#4d4d4d" >Confinement</text>
<text x="1371" y="1830" font-size="50" text-anchor="start" fill="#4d4d4d" >grade</text>
<text x="1372" y="1943" font-size="50" text-anchor="start" fill="#4d4d4d" >low /</text>
<text x="1372" y="1999" font-size="50" text-anchor="start" fill="#4d4d4d" >medium</text>
<text x="1372" y="2281" font-size="50" text-anchor="start" fill="#4d4d4d" >medium</text>
<text x="1372" y="2504" font-size="50" text-anchor="start" fill="#4d4d4d" >medium /</text>
<text x="1372" y="2559" font-size="50" text-anchor="start" fill="#4d4d4d" >high</text>
<text x="1372" y="2745" font-size="50" text-anchor="start" fill="#4d4d4d" >high</text>
<text x="1136" y="1615" font-size="50" fill="#4d4d4d">HS-B<tspan font-size="32" dy="10">1</tspan><tspan dy="-10">, HS-B</tspan><tspan font-size="32" dy="10">2</tspan><tspan dy="-10">, HS-B</tspan><tspan font-size="32" dy="10">3</tspan></text>
<path d="M1822,1837.5 L1768,1837.5 L1768,3083 L1822,3083" fill="none" stroke="#333" stroke-width="4"/>
<line x1="1768" y1="2045.0833333333333" x2="1822" y2="2045.0833333333333" stroke="#333" stroke-width="4"/>
<line x1="1768" y1="2252.6666666666665" x2="1822" y2="2252.6666666666665" stroke="#333" stroke-width="4"/>
<line x1="1768" y1="2460.25" x2="1822" y2="2460.25" stroke="#333" stroke-width="4"/>
<line x1="1768" y1="2667.8333333333335" x2="1822" y2="2667.8333333333335" stroke="#333" stroke-width="4"/>
<line x1="1768" y1="2875.416666666667" x2="1822" y2="2875.416666666667" stroke="#333" stroke-width="4"/>
<text x="1834" y="1857.5" font-size="46" text-anchor="start" fill="#4d4d4d" >0</text>
<text x="1834" y="2065.083333333333" font-size="46" text-anchor="start" fill="#4d4d4d" >20</text>
<text x="1834" y="2272.6666666666665" font-size="46" text-anchor="start" fill="#4d4d4d" >40</text>
<text x="1834" y="2480.25" font-size="46" text-anchor="start" fill="#4d4d4d" >60</text>
<text x="1834" y="2687.8333333333335" font-size="46" text-anchor="start" fill="#4d4d4d" >80</text>
<text x="1834" y="2895.416666666667" font-size="46" text-anchor="start" fill="#4d4d4d" >100</text>
<text x="1834" y="3103.0" font-size="46" text-anchor="start" fill="#4d4d4d" >120</text>
<rect x="1931" y="1836" width="166" height="543" fill="#8ed6f4" stroke="#4a4a4a" stroke-width="3"/>
<rect x="1931" y="2379" width="166" height="194" fill="#f6821f" stroke="#4a4a4a" stroke-width="3"/>
<rect x="1931" y="2573" width="166" height="71" fill="#f7adae" stroke="#4a4a4a" stroke-width="3"/>
<text x="1928" y="1619" font-size="50" text-anchor="start" fill="#4d4d4d" >HS-C</text>
<text x="1928" y="1676" font-size="50" text-anchor="start" fill="#4d4d4d" >Lowlands</text>
<text x="1756" y="1797" font-size="50" text-anchor="start" fill="#4d4d4d" >Depth (m)</text>
<text x="2163" y="1777" font-size="50" text-anchor="start" fill="#4d4d4d" >Confinement</text>
<text x="2163" y="1829" font-size="50" text-anchor="start" fill="#4d4d4d" >grade</text>
<text x="2165" y="2501" font-size="50" text-anchor="start" fill="#4d4d4d" >low</text>
<text x="2162" y="2641" font-size="50" text-anchor="start" fill="#4d4d4d" >high</text></svg></body></html>
